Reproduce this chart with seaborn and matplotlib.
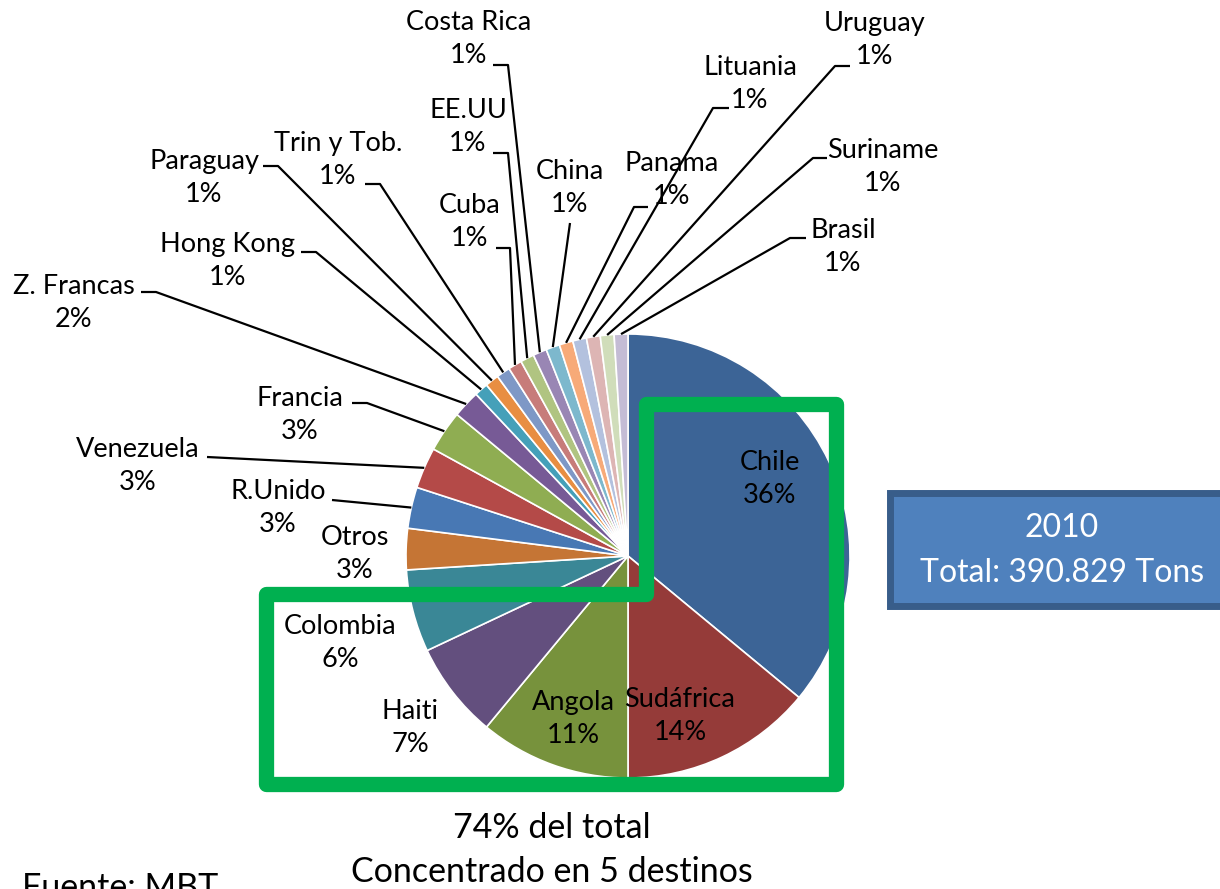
import numpy as np
import matplotlib
matplotlib.use("Agg")
import matplotlib.pyplot as plt
from matplotlib.patches import Rectangle, Polygon
import seaborn as sns

# data
countries = ["Chile", "Sudáfrica", "Angola", "Haiti", "Colombia", "Otros", "R.Unido",
             "Venezuela", "Francia", "Z. Francas", "Hong Kong", "Paraguay", "Trin y Tob.",
             "Cuba", "EE.UU", "Costa Rica", "China", "Panama", "Lituania", "Uruguay",
             "Suriname", "Brasil"]
shares = [36, 14, 11, 7, 6, 3, 3, 3, 3, 2, 1, 1, 1, 1, 1, 1, 1, 1, 1, 1, 1, 1]
slice_colors = ["#3C6496", "#953B39", "#77923C", "#634F7E", "#3A8796", "#C57535", "#4878B4",
                "#B44A48", "#8FAD52", "#775A96", "#45A0B9", "#E88E42", "#7E98C6", "#C77C7A",
                "#B0C481", "#9986B4", "#7DB8CD", "#F7AA78", "#B3C1DE", "#DDB5B4", "#D0DDBA",
                "#C4BCD5"]
year_text = "2010"
total_text = "Total: 390.829 Tons"
note_text = "74% del total\nConcentrado en 5 destinos"
source_text = "Fuente: MBT"

W, H = 1220, 889

def Y(y):
    return H - y

# label layout in pixels: text centre, leader start, elbow (None = straight)
label_pos = {
    "Chile": (770, 479, None, None),
    "Sudáfrica": (680, 716, None, None),
    "Angola": (573, 719, None, None),
    "Haiti": (410, 728, None, None),
    "Colombia": (340, 643, None, None),
    "Otros": (355, 554, None, None),
    "R.Unido": (278, 508, (332, 500), None),
    "Venezuela": (138, 466, (207, 457), None),
    "Francia": (300, 415, (352, 403), (367, 403)),
    "Z. Francas": (74, 303, (141, 292), (156, 292)),
    "Hong Kong": (228, 261, (301, 252), (316, 252)),
    "Paraguay": (204, 178, (263, 166), (278, 166)),
    "Trin y Tob.": (338, 160, (365, 184), (380, 184)),
    "Cuba": (470, 222, (496, 248), (510, 248)),
    "EE.UU": (468, 127, (493, 153), (508, 153)),
    "Costa Rica": (469, 39, (493, 65), (508, 65)),
    "China": (570, 188, (570, 223), None),
    "Panama": (672, 180, (648, 207), (634, 207)),
    "Lituania": (750, 84, (729, 108), (713, 108)),
    "Uruguay": (875, 40, (850, 66), (835, 66)),
    "Suriname": (883, 167, (827, 158), (813, 158)),
    "Brasil": (843, 247, (806, 238), (790, 238)),
}

sns.set_theme(style="white")
plt.rcParams["font.family"] = ["Lato", "DejaVu Sans"]

fig = plt.figure(figsize=(W / 100, H / 100), dpi=100)
ax = fig.add_axes([0, 0, 1, 1])

explode = [0.02] + [0] * (len(shares) - 1)
wedges, _ = ax.pie(shares, colors=sns.color_palette(slice_colors), startangle=90,
                   counterclock=False, center=(628, Y(556)), radius=222, explode=explode,
                   wedgeprops=dict(edgecolor="white", linewidth=1.2))
ax.set_xlim(0, W)
ax.set_ylim(0, H)
ax.set_aspect("equal")
ax.axis("off")

fs = 19.5
for w, name, pct in zip(wedges, countries, shares):
    tx, ty, start, elbow = label_pos[name]
    ax.text(tx, Y(ty), f"{name}\n{pct}%", ha="center", va="center",
            fontsize=fs, linespacing=1.38, color="black", zorder=5)
    if start is None:
        continue
    mid = np.deg2rad((w.theta1 + w.theta2) / 2)
    cx, cy = w.center
    ex, ey = cx + w.r * np.cos(mid), cy + w.r * np.sin(mid)
    xs = [start[0]] + ([elbow[0]] if elbow else [])
    ys = [Y(start[1])] + ([Y(elbow[1])] if elbow else [])
    ax.plot(xs + [ex], ys + [ey], color="black", lw=1.6, zorder=4,
            solid_capstyle="butt")

# green bracket around the five main destinations
bracket = [(266, 594), (646, 594), (646, 404), (836, 404), (836, 784), (266, 784)]
ax.add_patch(Polygon([(x, Y(y)) for x, y in bracket], closed=True, fill=False,
                     edgecolor="#00B050", lw=11, joinstyle="round", zorder=6))

# info box on the right
ax.add_patch(Rectangle((889.5, Y(605.5)), 400, 113, facecolor="#4F81BD",
                       edgecolor="#385D8A", lw=5, zorder=6))
ax.text(1062, Y(528), year_text, ha="center", va="center", fontsize=23,
        color="white", zorder=7)
ax.text(1062, Y(573), total_text, ha="center", va="center", fontsize=23,
        color="white", zorder=7)

ax.text(552, Y(850), note_text, ha="center", va="center", fontsize=24.5,
        linespacing=1.5, color="black")
ax.text(22, Y(872), source_text, ha="left", va="top", fontsize=24.5, color="black")

fig.savefig("out.png", dpi=100)
